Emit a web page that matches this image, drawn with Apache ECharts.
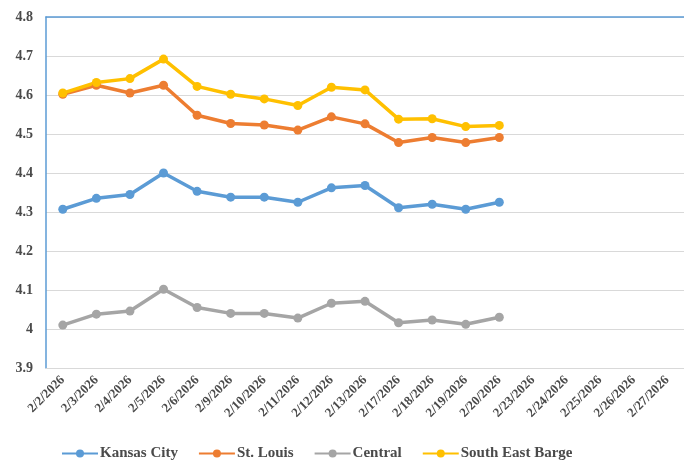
<!DOCTYPE html>
<html>
<head>
<meta charset="utf-8">
<script src="https://cdn.jsdelivr.net/npm/echarts@6/dist/echarts.min.js"></script>
<style>
  html, body { margin: 0; padding: 0; background: #fff; }
  #chart1 { width: 684px; height: 474px; }
</style>
</head>
<body>
<div id="chart1"></div>
<script>
var dates = ['2/2/2026','2/3/2026','2/4/2026','2/5/2026','2/6/2026','2/9/2026','2/10/2026','2/11/2026',
  '2/12/2026','2/13/2026','2/17/2026','2/18/2026','2/19/2026','2/20/2026','2/23/2026','2/24/2026',
  '2/25/2026','2/26/2026','2/27/2026'];
var kansasCity = [4.307, 4.335, 4.345, 4.400, 4.353, 4.338, 4.338, 4.325, 4.362, 4.368, 4.311, 4.320, 4.307, 4.325];
var stLouis    = [4.602, 4.625, 4.605, 4.625, 4.548, 4.527, 4.523, 4.510, 4.544, 4.526, 4.478, 4.491, 4.478, 4.491];
var central    = [4.010, 4.038, 4.046, 4.102, 4.055, 4.040, 4.040, 4.028, 4.066, 4.071, 4.016, 4.023, 4.012, 4.030];
var seBarge    = [4.605, 4.632, 4.642, 4.692, 4.622, 4.602, 4.590, 4.573, 4.620, 4.613, 4.538, 4.539, 4.519, 4.522];

var font = 'Liberation Serif';
var txt = '#4a4a4a';
var myChart = echarts.init(document.getElementById('chart1'));

function line(name, data, color) {
  return {
    name: name,
    type: 'line',
    data: data,
    xAxisIndex: 0,
    symbol: 'circle',
    symbolSize: 9,
    itemStyle: { color: color },
    lineStyle: { width: 3.5, color: color },
    animation: false
  };
}

myChart.setOption({
  backgroundColor: '#fff',
  grid: { left: 46, right: 0, top: 17, bottom: 106 },
  legend: {
    top: 441,
    left: 56,
    itemWidth: 36,
    itemHeight: 10,
    itemGap: 20,
    textStyle: { fontFamily: font, fontWeight: 'bold', fontSize: 15, color: txt, padding: [0, 0, 0, -3] },
    data: ['Kansas City', 'St. Louis', 'Central', 'South East Barge']
  },
  xAxis: [{
    type: 'category',
    data: dates,
    boundaryGap: true,
    axisLine: { lineStyle: { color: '#d9d9d9' } },
    axisTick: { show: false },
    axisLabel: {
      rotate: 45, interval: 0, margin: 10,
      fontFamily: font, fontWeight: 'bold', fontSize: 13, color: txt
    }
  }, {
    type: 'category',
    data: dates,
    position: 'top',
    axisLine: { lineStyle: { color: '#5b9bd5', width: 1.5 } },
    axisTick: { show: false },
    axisLabel: { show: false }
  }],
  yAxis: {
    type: 'value',
    min: 3.9,
    max: 4.8,
    interval: 0.1,
    axisLine: { show: true, lineStyle: { color: '#5b9bd5', width: 1.5 } },
    axisTick: { show: false },
    splitLine: { lineStyle: { color: '#d9d9d9', width: 1 } },
    axisLabel: {
      margin: 13,
      fontFamily: font, fontWeight: 'bold', fontSize: 14, color: txt,
      formatter: function (v) { return String(Math.round(v * 10) / 10); }
    }
  },
  series: [
    line('Kansas City', kansasCity, '#5b9bd5'),
    line('St. Louis', stLouis, '#ed7d31'),
    line('Central', central, '#a5a5a5'),
    line('South East Barge', seBarge, '#ffc000')
  ]
});
</script>
</body>
</html>
